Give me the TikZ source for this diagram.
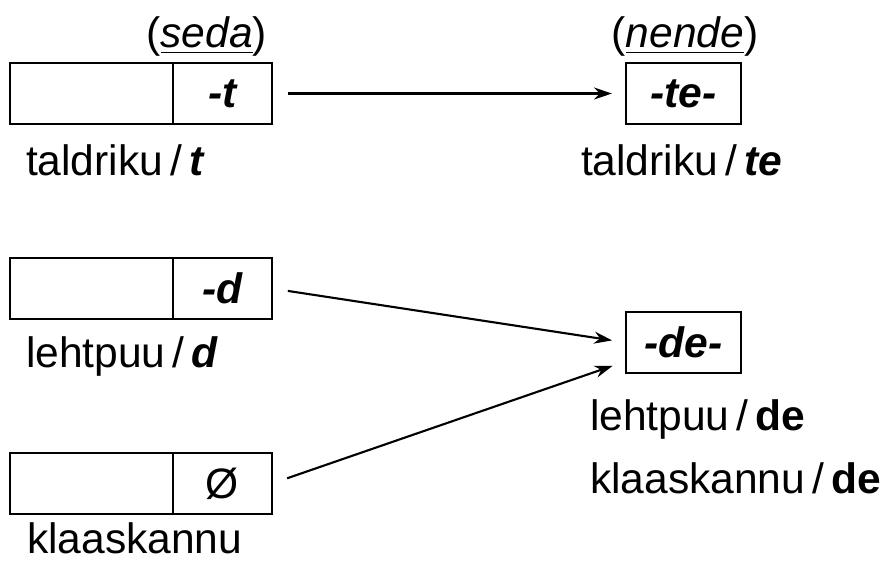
\documentclass[tikz,border=0pt]{standalone}
\usepackage{fontspec}
\setmainfont{Liberation Sans}
\usetikzlibrary{arrows.meta}

\begin{document}
\begin{tikzpicture}[x=0.01cm, y=-0.01cm, line width=0.6pt,
  >={Stealth[length=0.18cm, width=0.12cm]},
  every node/.style={font=\fontsize{12.1}{14}\selectfont},
  stem/.style={draw, minimum width=1.63cm, minimum height=0.61cm, inner sep=0pt, outer sep=0pt},
  suf/.style={draw, minimum width=0.99cm, minimum height=0.61cm, inner sep=0pt, outer sep=0pt,
    font=\fontsize{12.1}{14}\selectfont\bfseries\itshape},
  res/.style={draw, minimum width=1.15cm, minimum height=0.61cm, inner sep=0pt, outer sep=0pt,
    font=\fontsize{12.1}{14}\selectfont\bfseries\itshape},
  lbl/.style={anchor=base west, inner sep=0pt},
  conn/.style={->, shorten <=0.16cm, shorten >=0.14cm}]
\useasboundingbox (0,0) rectangle (881,560);

%% taldriku
\draw (91.5,93.5) node[stem] (st0) {};
\draw (st0) ++ (131,0) node[suf] (sf0) {-t};
\draw (268,47) node[anchor=base east, inner sep=0pt] (hd0) {(\underline{\textit{seda}})};
\draw (25,175) node[lbl] (lb0) {taldriku\,/\,\textbf{\textit{t}}};
%% te
\draw (683.5,93.5) node[res] (te) {-te-};
\draw (685,47) node[anchor=base, inner sep=0pt] (hd1) {(\underline{\textit{nende}})};
\draw (580,175) node[lbl] (lb1) {taldriku\,/\,\textbf{\textit{te}}};
\path[draw, conn] (sf0) -- (te);

%%%%%%%%%%%%%%%%%%%%%% lehtpuu

\draw (91.5,288.5) node[stem] (st1) {};
\draw (st1) ++ (131,0) node[suf] (sf1) {-d};
\draw (25,367) node[lbl] (lb2) {lehtpuu\,/\,\textbf{\textit{d}}};
%% klaaskannu
\draw (91.5,483.5) node[stem] (st2) {};
\draw (st2) ++ (131,0) node[suf, font=\fontsize{12.1}{14}\selectfont] (sf2) {Ø};
\draw (26,553) node[lbl] (lb3) {klaaskannu};

%%%%%%%%%%%%%%%%%%%%%% de

\draw (683.5,342.5) node[res] (de) {-de-};
\draw (589,430) node[lbl] (lb4) {lehtpuu\,/\,\textbf{de}};
\draw (589,493) node[lbl] (lb5) {klaaskannu\,/\,\textbf{de}};
\path[draw, conn] (sf1.east) -- (de.west);
\path[draw, conn] (sf2.east) -- (de.198);
\end{tikzpicture}
\end{document}
